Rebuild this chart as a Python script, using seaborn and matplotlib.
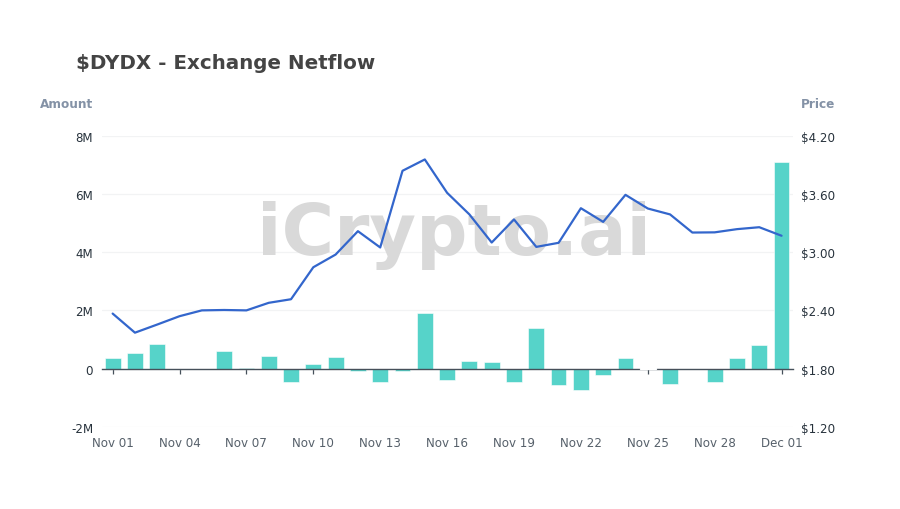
import numpy as np
import pandas as pd
import matplotlib
matplotlib.use("Agg")
import matplotlib.pyplot as plt
import seaborn as sns

days = ["Nov %02d" % d for d in range(1, 31)] + ["Dec 01"]
netflow_m = [0.37, 0.53, 0.83, -0.02, 0.0, 0.62, 0.03, 0.44, -0.45, 0.15, 0.39,
             -0.07, -0.45, -0.07, 1.90, -0.41, 0.25, 0.24, -0.45, 1.38, -0.55,
             -0.75, -0.22, 0.36, 0.01, -0.54, 0.0, -0.45, 0.36, 0.80, 7.11]
price = [2.367, 2.17, 2.254, 2.34, 2.40, 2.404, 2.40, 2.478, 2.515, 2.845, 2.976,
         3.217, 3.049, 3.84, 3.957, 3.613, 3.39, 3.10, 3.338, 3.055, 3.097,
         3.454, 3.313, 3.592, 3.451, 3.39, 3.203, 3.205, 3.238, 3.258, 3.17]
amount_ticks = [-2, 0, 2, 4, 6, 8]
amount_labels = ["-2M", "0", "2M", "4M", "6M", "8M"]
price_ticks = [1.2, 1.8, 2.4, 3.0, 3.6, 4.2]
price_labels = ["$1.20", "$1.80", "$2.40", "$3.00", "$3.60", "$4.20"]
title = "$DYDX - Exchange Netflow"
watermark = "iCrypto.ai"

df = pd.DataFrame({"day": days, "netflow": np.array(netflow_m) * 1e6,
                   "pos": np.arange(len(days)), "price": price})

sns.set_theme(style="white")
plt.rcParams["font.family"] = ["DejaVu Sans"]

W, H = 900, 510
fig = plt.figure(figsize=(W / 100, H / 100), dpi=100, facecolor="white")
ax = fig.add_axes([101.5 / W, 1 - 427.7 / H, 691.2 / W, 290.8 / H])

sns.barplot(data=df, x="day", y="netflow", color="#56d3c9", saturation=1,
            width=0.71, edgecolor="white", linewidth=0.4, ax=ax)
for p in ax.patches:
    h = abs(p.get_height())
    p.set_zorder(3 if 0 < h < 0.015e6 else 2.2)
    if h == 0:
        p.set_visible(False)
    elif h < 0.015e6:
        p.set_linewidth(0.9)

ax.set_xlim(-0.5, len(days) - 0.5)
ax.set_ylim(-2e6, 8e6)
ax.set_yticks([v * 1e6 for v in amount_ticks])
ax.set_yticklabels(amount_labels)
ax.set_xticks(df["pos"][::3])
ax.set_xticklabels(days[::3])
ax.set_xlabel("")
ax.set_ylabel("")
ax.grid(axis="y", color="#f2f3f4", lw=0.9)
ax.set_axisbelow(True)
for s in ["top", "left", "right"]:
    ax.spines[s].set_visible(False)
ax.spines["bottom"].set_position(("data", 0))
ax.spines["bottom"].set_color("#46505a")
ax.spines["bottom"].set_linewidth(1.0)
ax.tick_params(axis="x", length=3.6, width=0.9, color="#46505a", pad=44.8,
               labelsize=8.6, labelcolor="#56606a", bottom=True)
ax.tick_params(axis="y", length=0, pad=6, labelsize=8.6, labelcolor="#27323c")

ax.text(0.510, (427.7 - 255) / 290.8, watermark, transform=ax.transAxes, ha="center",
        va="baseline", fontsize=51.6, fontweight="bold", color="#d9d9d9", zorder=1)

ax2 = ax.twinx()
sns.lineplot(data=df, x="pos", y="price", color="#3366cc", lw=1.6,
             errorbar=None, sort=False, ax=ax2)
ax2.set_ylim(1.2, 4.2)
ax2.set_yticks(price_ticks)
ax2.set_yticklabels(price_labels)
ax2.set_ylabel("")
ax2.grid(False)
for s in ax2.spines.values():
    s.set_visible(False)
ax2.tick_params(axis="y", length=0, pad=6, labelsize=8.6, labelcolor="#27323c")

fig.text(76 / W, 1 - 69 / H, title, ha="left", va="baseline", fontsize=14.3,
         fontweight="bold", color="#444444")
fig.text(93 / W, 1 - 104.5 / H, "Amount", ha="right", va="center", fontsize=8.7,
         fontweight="bold", color="#8492a6")
fig.text(801 / W, 1 - 104.5 / H, "Price", ha="left", va="center", fontsize=8.7,
         fontweight="bold", color="#8492a6")

fig.savefig("out.png", dpi=100, facecolor="white")
